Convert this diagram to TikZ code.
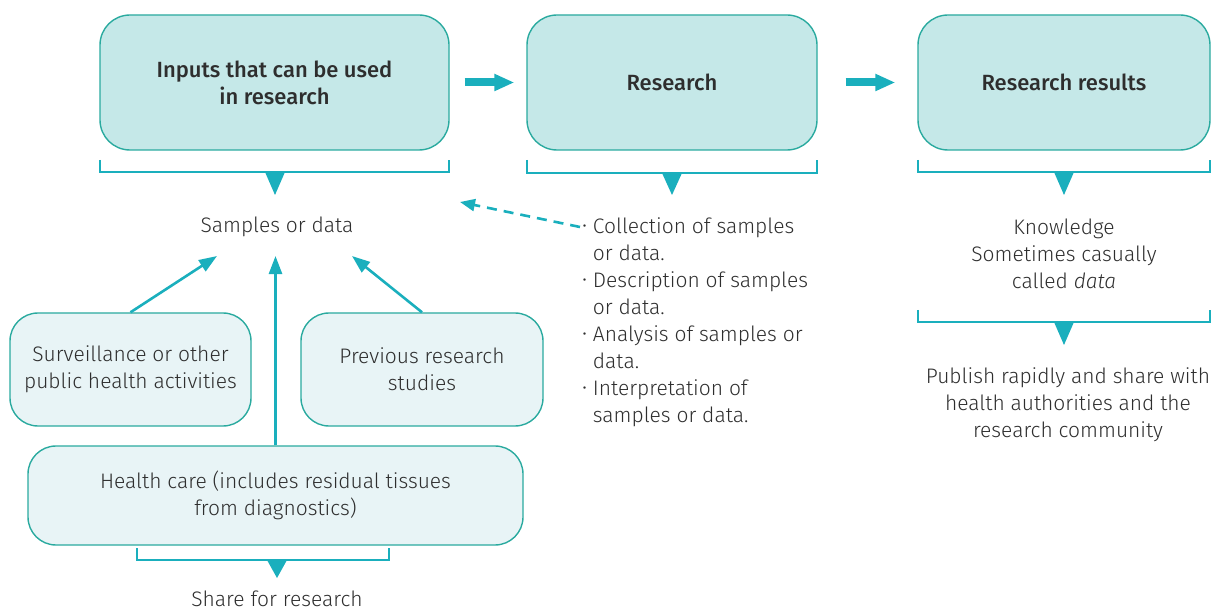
\documentclass[tikz,border=0pt]{standalone}
\usepackage{fontspec}
\setmainfont{Fira Sans}[UprightFont=* Light, ItalicFont=* Light Italic, BoldFont=* Medium]
\usepackage{tikz}
\usetikzlibrary{positioning, arrows.meta, calc}
\usepackage{xcolor}

\definecolor{tealline}{HTML}{1AAFBD}
\definecolor{tealedge}{HTML}{2AAA9F}
\definecolor{topfill}{HTML}{C5E8E8}
\definecolor{lowfill}{HTML}{E8F4F6}
\definecolor{textgray}{HTML}{2E2E2E}

\begin{document}
\begin{tikzpicture}[
    x=0.5pt, y=-0.5pt,
    on grid,
    every node/.style={text=textgray, font=\fontsize{10.5}{13.5}\selectfont},
    mainbox/.style={draw=tealedge, line width=0.7pt, fill=topfill, rounded corners=15pt,
        minimum height=67.5pt, align=center, font=\fontsize{11}{13.5}\selectfont\bfseries},
    inbox/.style={draw=tealedge, line width=0.7pt, fill=lowfill, rounded corners=14pt,
        align=center},
    bigarrow/.style={tealline, line width=4pt, -{Triangle[length=10pt, width=8pt]}},
    thinarrow/.style={tealline, line width=1.3pt, -{Triangle[length=9pt, width=6.5pt]}},
    dasharrow/.style={tealline, line width=1.3pt, dash pattern=on 5pt off 3.5pt,
        -{Triangle[length=7.5pt, width=6pt]}}
]
    \useasboundingbox (0,0) rectangle (1223,610);

    % Top row
    \node[mainbox, minimum width=174.5pt] (inputs) at (274.5,82.5) {Inputs that can be used\\in research};
    \node[mainbox, minimum width=145pt, right=198.75pt of inputs] (research) {Research};
    \node[mainbox, minimum width=146pt, right=196pt of research] (results) {Research results};

    % Texts under the brackets
    \node (samples) at (277,227) {Samples or data};
    \node[anchor=base west, inner sep=0pt] (steps) at (582,234) {%
        \begin{tabular}[t]{@{}l@{\hspace{3pt}}l@{}}
        \raisebox{0.1em}{\scalebox{0.75}{\textbullet}} & Collection of samples\\
        & or data.\\
        \raisebox{0.1em}{\scalebox{0.75}{\textbullet}} & Description of samples\\
        & or data.\\
        \raisebox{0.1em}{\scalebox{0.75}{\textbullet}} & Analysis of samples or\\
        & data.\\
        \raisebox{0.1em}{\scalebox{0.75}{\textbullet}} & Interpretation of\\
        & samples or data.
        \end{tabular}};
    \node[align=center] (knowledge) at (1064,254) {Knowledge\\Sometimes casually\\called \textit{data}};
    \node[align=center] (publish) at (1068,405) {Publish rapidly and share with\\health authorities and the\\research community};

    % Sources of samples
    \node[inbox, minimum width=120.5pt, minimum height=56.5pt] (surveillance) at (130.5,369.5)
        {Surveillance or other\\public health activities};
    \node[inbox, minimum width=121pt, minimum height=56.5pt] (previous) at (422,369.5)
        {Previous research\\studies};
    \node[inbox, minimum width=247.5pt, minimum height=49.5pt] (healthcare) at (275.5,495.5)
        {Health care (includes residual tissues\\from diagnostics)};
    \node (share) at (277,599) {Share for research};

    % Free ends
    \coordinate (toleft) at ($(samples.south)+(-60,12)$);
    \coordinate (tomid) at ($(samples.south)+(-2,12)$);
    \coordinate (toright) at ($(samples.south)+(75,12)$);
    \coordinate (dashend) at (460,202);
    \coordinate (dashstart) at ($(steps.base west)+(-2,-7)$);

    % Brackets
    \foreach \xa/\xb/\ya/\yb/\cx/\tip in {100/449/160/172/275/195, 527/817/160/173/672/195,
        918/1210/160/172/1064/195, 918/1210/310/322/1064/345, 137/389/548/560/277/578}{
        \draw[tealline, line width=1.4pt] (\xa,\ya) -- (\xa,\yb) -- (\xb,\yb) -- (\xb,\ya);
        \fill[tealline] (\cx-10,\yb) -- (\cx+10,\yb) -- (\cx,\tip) -- cycle;
    }

    % Arrows
    \draw[bigarrow, shorten <=7.5pt, shorten >=6pt] (inputs) -- (research);
    \draw[bigarrow, shorten <=14pt, shorten >=11pt] (research) -- (results);
    \draw[thinarrow] (surveillance.north) -- (toleft);
    \draw[thinarrow] (healthcare.north) -- (healthcare.north |- tomid);
    \draw[thinarrow] (previous.north) -- (toright);
    \draw[dasharrow] (dashstart) -- (dashend);
\end{tikzpicture}
\end{document}
